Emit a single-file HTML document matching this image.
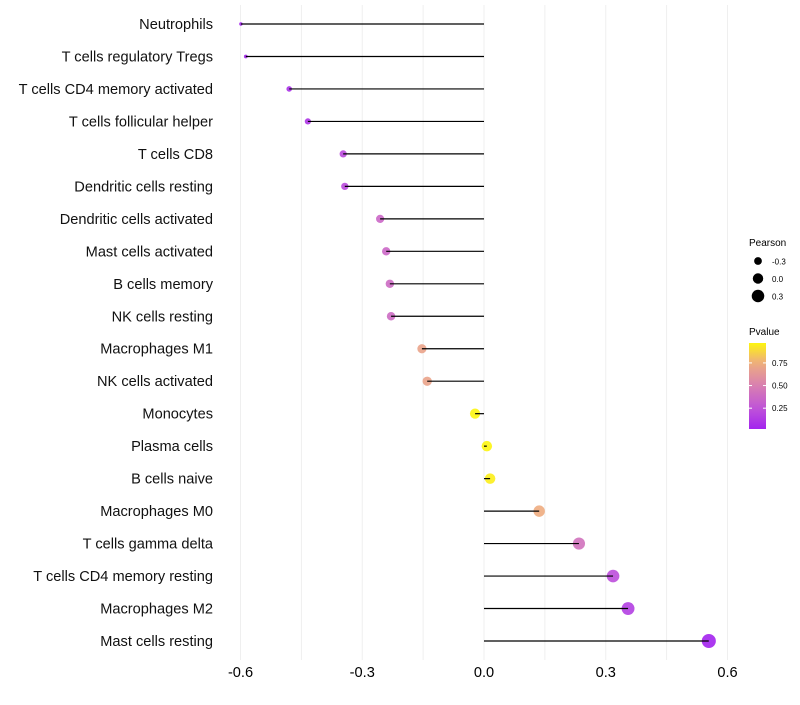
<!DOCTYPE html>
<html><head><meta charset="utf-8"><style>
body{margin:0;background:#fff;font-family:"Liberation Sans",sans-serif}
</style></head><body>
<svg id="chart" width="800" height="700" xmlns="http://www.w3.org/2000/svg">
<g id="grid"></g><g id="marks"></g><g id="labels"></g><g id="legend"></g>
</svg>
<script>
const categories=["Neutrophils","T cells regulatory  Tregs","T cells CD4 memory activated","T cells follicular helper","T cells CD8","Dendritic cells resting","Dendritic cells activated","Mast cells activated","B cells memory","NK cells resting","Macrophages M1","NK cells activated","Monocytes","Plasma cells","B cells naive","Macrophages M0","T cells gamma delta","T cells CD4 memory resting","Macrophages M2","Mast cells resting"];
const pearson=[-0.599,-0.587,-0.48,-0.434,-0.347,-0.343,-0.256,-0.241,-0.232,-0.229,-0.153,-0.140,-0.022,0.007,0.015,0.136,0.234,0.318,0.355,0.554];
const pvalue=[0.02,0.03,0.08,0.1,0.2,0.2,0.36,0.36,0.38,0.38,0.7,0.7,0.97,0.97,0.95,0.75,0.42,0.22,0.15,0.02];
const xTicks=[-0.6,-0.3,0,0.3,0.6];
const xTickLabels=["-0.6","-0.3","0.0","0.3","0.6"];
const sizeLegend=[-0.3,0,0.3];
const pTicks=[0.25,0.5,0.75];
const NS="http://www.w3.org/2000/svg";
const X=v=>484+v*405.8;
const Y=i=>24+i*(617/19);
const R=v=>Math.sqrt(Math.max(1,3+40.3*(v+0.6)));
const stops=[[0,[160,32,240]],[0.25,[192,84,216]],[0.5,[216,128,176]],[0.75,[238,172,128]],[1,[255,255,0]]];
function col(p){for(let k=1;k<stops.length;k++){if(p<=stops[k][0]){const a=stops[k-1],b=stops[k],t=(p-a[0])/(b[0]-a[0]);return 'rgb('+a[1].map((c,j)=>Math.round(c+(b[1][j]-c)*t)).join(',')+')';}}return 'rgb(255,255,0)';}
function el(t,a,p){const e=document.createElementNS(NS,t);for(const k in a)e.setAttribute(k,a[k]);p.appendChild(e);return e;}
const grid=document.getElementById('grid'),marks=document.getElementById('marks'),labels=document.getElementById('labels'),legend=document.getElementById('legend');
for(let v=-0.6;v<=0.61;v+=0.15){const g=el('line',{x1:X(v),x2:X(v),y1:5,y2:660,stroke:'#efefef','stroke-width':1},grid);}
xTicks.forEach((v,i)=>{const t=el('text',{x:X(v),y:677,'text-anchor':'middle','font-size':14.6,fill:'#000'},labels);t.textContent=xTickLabels[i];});
categories.forEach((c,i)=>{
 const t=el('text',{x:213,y:Y(i)+5,'text-anchor':'end','font-size':14.6,fill:'#111'},labels);t.textContent=c;
 
 const pt=el('circle',{cx:X(pearson[i]),cy:Y(i),r:R(pearson[i]),fill:col(pvalue[i]),'fill-opacity':0.9},marks);
 
 const ln=el('line',{x1:X(0),x2:X(pearson[i]),y1:Y(i),y2:Y(i),stroke:'#000','stroke-width':1.2},marks);
 
});
let lt=el('text',{x:749,y:246,'font-size':10},legend);lt.textContent='Pearson';
sizeLegend.forEach((v,i)=>{const y=261+i*17.5;const c=el('circle',{cx:758,cy:y,r:R(v),fill:'#000'},legend);
 const t=el('text',{x:772,y:y+3.5,'font-size':8},legend);t.textContent=(v<0?'-':'')+Math.abs(v).toFixed(1);});
lt=el('text',{x:749,y:335,'font-size':10},legend);lt.textContent='Pvalue';
const defs=el('defs',{},legend);const lg=el('linearGradient',{id:'pg',x1:0,y1:1,x2:0,y2:0},defs);
const pMin=0.02,pMax=0.97;
for(let k=0;k<=10;k++){const p=pMin+(pMax-pMin)*k/10;el('stop',{offset:k/10,'stop-color':col(p)},lg);}
const bar=el('rect',{x:749,y:343,width:17,height:86,fill:'url(#pg)'},legend);
const PY=p=>429-(p-pMin)/(pMax-pMin)*86;
pTicks.forEach(p=>{el('line',{x1:749,x2:752,y1:PY(p),y2:PY(p),stroke:'#fff'},legend);el('line',{x1:763,x2:766,y1:PY(p),y2:PY(p),stroke:'#fff'},legend);
 const t=el('text',{x:772,y:PY(p)+3,'font-size':8},legend);t.textContent=p.toFixed(2);});
</script>
</body></html>
